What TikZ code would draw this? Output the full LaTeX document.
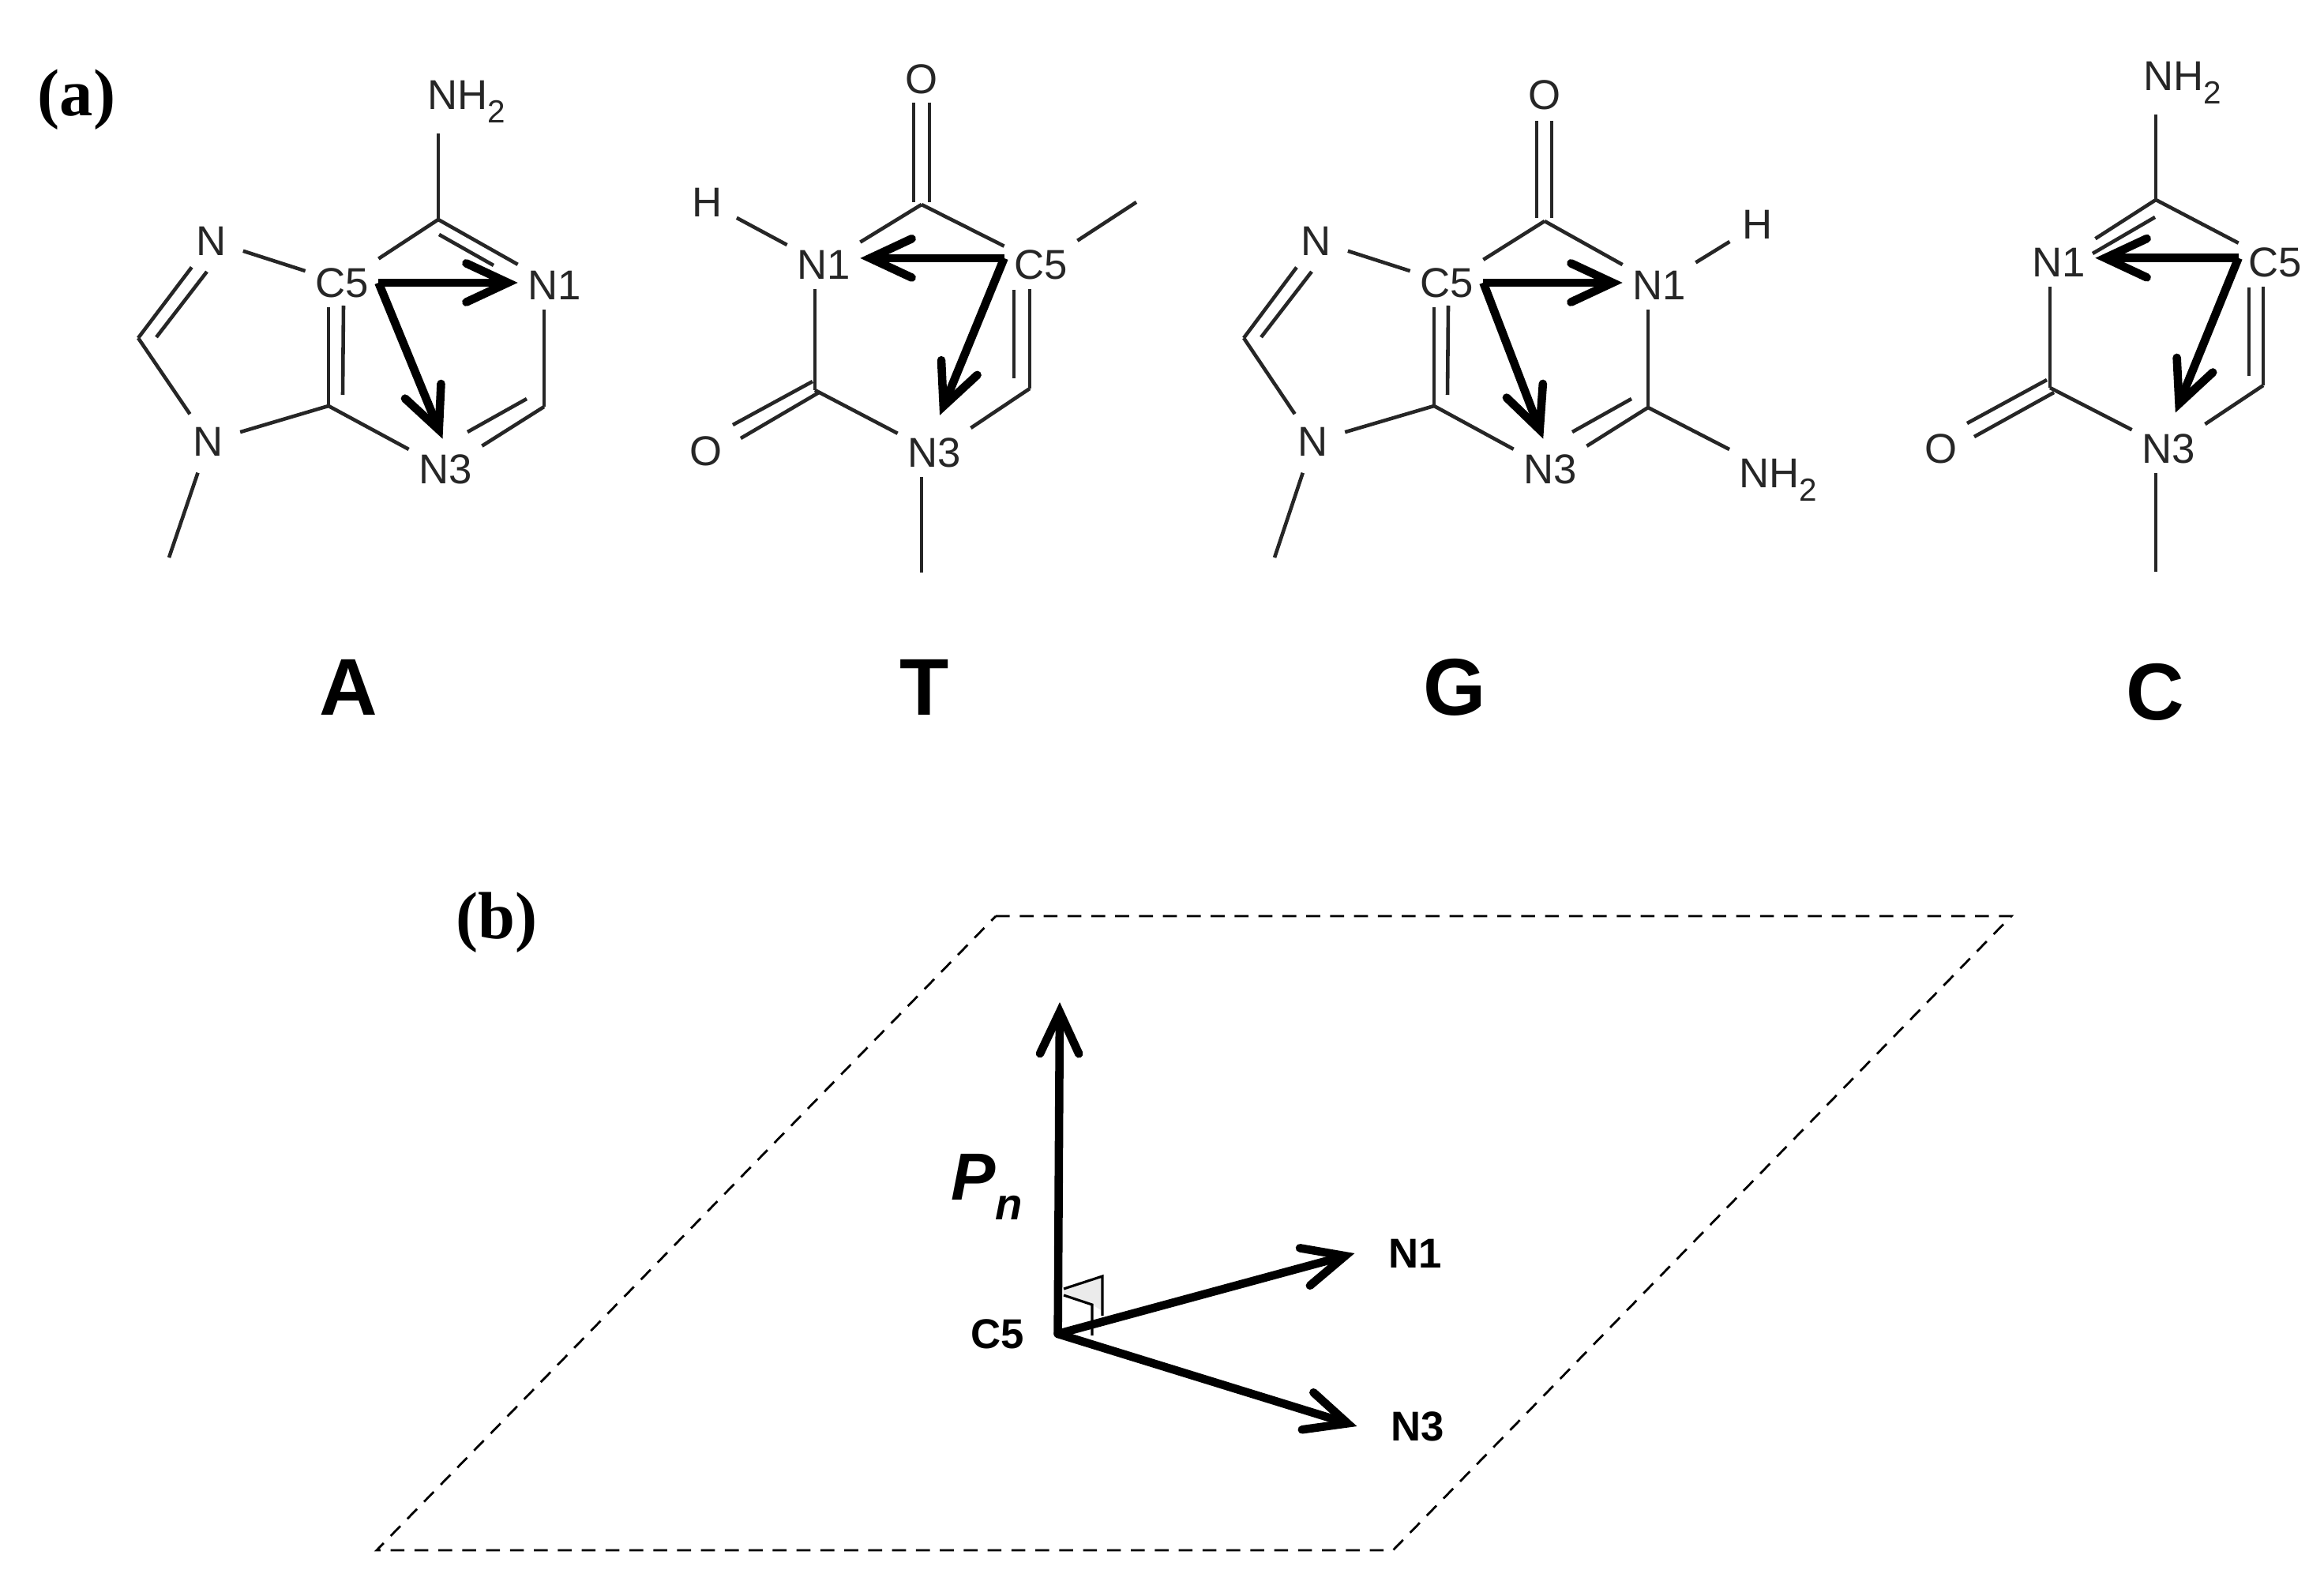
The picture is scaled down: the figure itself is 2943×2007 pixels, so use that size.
\documentclass[tikz,border=0pt]{standalone}
\usepackage{fontspec}
\setmainfont{Liberation Sans}
\newfontfamily\panelfont{Liberation Serif}
\usetikzlibrary{arrows.meta}
\newcommand{\subtwo}{\raisebox{-0.32em}{\fontsize{11.5}{11.5}\selectfont 2}}
\begin{document}
\begin{tikzpicture}[x=0.01cm,y=-0.01cm,
	bond/.style={draw=black!85,line width=1.3pt},
	vec/.style={draw=black,line width=3pt,-{Straight Barb[length=15pt,width=14pt,line cap=round,line join=miter]}},
	atom/.style={text=black!85,font=\fontsize{15}{15}\selectfont,inner sep=3.4pt},
	atomo/.style={atom,circle,inner sep=3pt},
	basename/.style={font=\fontsize{29}{29}\selectfont\bfseries,inner sep=0pt},
	panel/.style={font=\panelfont\fontsize{24}{24}\selectfont\bfseries,inner sep=0pt},
	planelabel/.style={font=\fontsize{15}{15}\selectfont\bfseries,inner xsep=12pt,inner ysep=0pt},
	plane/.style={draw=black,line width=0.8pt,dash pattern=on 5pt off 3.6pt},
	rightang/.style={draw=black,line width=0.9pt}]
	\useasboundingbox (0,0) rectangle (2943,2007);
	\node [panel] (pa) at (97,126) {(a)};
	\node [panel] (pb) at (629,1168) {(b)};
	\node [basename] (nameA) at (441,870) {A};
	\node [basename] (nameT) at (1171,870) {T};
	\node [basename] (nameG) at (1842,870) {G};
	\node [basename] (nameC) at (2729,876) {C};
	\node [atom,anchor=base] (aNH) at (591,139) {NH\subtwo};
	\node [atom] (aC5) at (433,358) {C5};
	\node [atom] (aN1) at (702,361) {N1};
	\node [atom] (aN3) at (564,594) {N3};
	\node [atomo] (aN7) at (268,305) {N};
	\node [atomo] (aN9) at (264,559) {N};
	\coordinate (aC6) at (555,278);
	\coordinate (aC2) at (689,515);
	\coordinate (aC4) at (416,514);
	\coordinate (aC8) at (175,428);
	\coordinate (aMe) at (214,706);
	\coordinate (aC6i) at (556,297);
	\coordinate (aN1i) at (625,336);
	\coordinate (aC2i) at (667,505);
	\coordinate (aN3i) at (592,547);
	\coordinate (aC5i) at (435,387);
	\coordinate (aC4i) at (434,500);
	\coordinate (aN7i) at (262,344);
	\coordinate (aC8i) at (198,427);
	\draw [bond] (aC6) -- (aC6 |- aNH.south);
	\draw [bond] (aC6) -- (aC5);
	\draw [bond] (aC6) -- (aN1);
	\draw [bond] (aC6i) -- (aN1i);
	\draw [bond] (aC2) -- (aN1.south -| aC2);
	\draw [bond] (aC2) -- (aN3);
	\draw [bond] (aC2i) -- (aN3i);
	\draw [bond] (aC4) -- (aN3);
	\draw [bond] (aC4) -- (aC4 |- aC5.south);
	\draw [bond] (aC5i) -- (aC4i);
	\draw [bond] (aN7) -- (aC5);
	\draw [bond] (aN7) -- (aC8);
	\draw [bond] (aN7i) -- (aC8i);
	\draw [bond] (aC8) -- (aN9);
	\draw [bond] (aN9) -- (aC4);
	\draw [bond] (aN9) -- (aMe);
	\draw [vec] (aC5.east) -- (aN1.west |- aC5.east);
	\draw [vec] (aC5.east) -- ([yshift=2pt,xshift=-1pt]aN3.north);
	\node [atomo] (tO) at (1167,100) {O};
	\node [atomo] (tH) at (896,256) {H};
	\node [atom] (tN1) at (1043,335) {N1};
	\node [atom] (tC5) at (1318,335) {C5};
	\node [atomo] (tOb) at (894,571) {O};
	\node [atom] (tN3) at (1183,573) {N3};
	\coordinate (tC4) at (1167,259);
	\coordinate (tC2) at (1032,494);
	\coordinate (tC6) at (1304,492);
	\coordinate (tMe) at (1439,256);
	\coordinate (tMeb) at (1167,725);
	\coordinate (tOa) at (1157,130);
	\coordinate (tOc) at (1157,256);
	\coordinate (tOd) at (1177,130);
	\coordinate (tOe) at (1177,256);
	\coordinate (tC2a) at (1029,483);
	\coordinate (tObb) at (928,538);
	\coordinate (tC2b) at (1037,497);
	\coordinate (tObc) at (938,555);
	\coordinate (tC5i) at (1284,367);
	\coordinate (tC6i) at (1284,479);
	\draw [bond] (tOa) -- (tOc);
	\draw [bond] (tOd) -- (tOe);
	\draw [bond] (tC4) -- (tN1);
	\draw [bond] (tC4) -- (tC5);
	\draw [bond] (tH) -- (tN1);
	\draw [bond] (tC5) -- (tMe);
	\draw [bond] (tC2) -- (tC2 |- tN1.south);
	\draw [bond] (tC2a) -- (tObb);
	\draw [bond] (tC2b) -- (tObc);
	\draw [bond] (tC2) -- (tN3);
	\draw [bond] (tN3.south -| tMeb) -- (tMeb);
	\draw [bond] (tN3) -- (tC6);
	\draw [bond] (tC6) -- (tC6 |- tC5.south);
	\draw [bond] (tC5i) -- (tC6i);
	\draw [vec] ([yshift=2.3pt]tC5.west) -- ([yshift=2.3pt]tN1.east);
	\draw [vec] ([yshift=2.3pt]tC5.west) -- ([yshift=4.5pt,xshift=2pt]tN3.north);
	\node [atomo] (gO) at (1956,120) {O};
	\node [atom] (gC5) at (1832,358) {C5};
	\node [atom] (gN1) at (2101,361) {N1};
	\node [atomo] (gH) at (2226,284) {H};
	\node [atom] (gN3) at (1963,594) {N3};
	\node [atom,anchor=base] (gNH) at (2252,618) {NH\subtwo};
	\node [atomo] (gN7) at (1667,305) {N};
	\node [atomo] (gN9) at (1663,559) {N};
	\coordinate (gC6) at (1956,280);
	\coordinate (gC2) at (2087,516);
	\coordinate (gC4) at (1816,514);
	\coordinate (gC8) at (1575,428);
	\coordinate (gMe) at (1614,706);
	\coordinate (gOa) at (1946,153);
	\coordinate (gOb) at (1946,276);
	\coordinate (gOc) at (1965,153);
	\coordinate (gOd) at (1965,276);
	\coordinate (gC2i) at (2066,505);
	\coordinate (gN3i) at (1991,547);
	\coordinate (gC5i) at (1834,387);
	\coordinate (gC4i) at (1833,500);
	\coordinate (gN7i) at (1661,344);
	\coordinate (gC8i) at (1597,427);
	\draw [bond] (gOa) -- (gOb);
	\draw [bond] (gOc) -- (gOd);
	\draw [bond] (gC6) -- (gC5);
	\draw [bond] (gC6) -- (gN1);
	\draw [bond] (gN1) -- (gH);
	\draw [bond] (gC2) -- (gC2 |- gN1.south);
	\draw [bond] (gC2) -- (gN3);
	\draw [bond] (gC2i) -- (gN3i);
	\draw [bond] (gC2) -- (gNH.north west);
	\draw [bond] (gC4) -- (gN3);
	\draw [bond] (gC4) -- (gC4 |- gC5.south);
	\draw [bond] (gC5i) -- (gC4i);
	\draw [bond] (gN7) -- (gC5);
	\draw [bond] (gN7) -- (gC8);
	\draw [bond] (gN7i) -- (gC8i);
	\draw [bond] (gC8) -- (gN9);
	\draw [bond] (gN9) -- (gC4);
	\draw [bond] (gN9) -- (gMe);
	\draw [vec] (gC5.east) -- (gN1.west |- gC5.east);
	\draw [vec] (gC5.east) -- ([yshift=2pt,xshift=-2.5pt]gN3.north);
	\node [atom,anchor=base] (cNH) at (2764,115) {NH\subtwo};
	\node [atom] (cN1) at (2607,332) {N1};
	\node [atom] (cC5) at (2881,332) {C5};
	\node [atomo] (cO) at (2458,568) {O};
	\node [atom] (cN3) at (2746,568) {N3};
	\coordinate (cC4) at (2730,253);
	\coordinate (cC2) at (2596,491);
	\coordinate (cC6) at (2866,488);
	\coordinate (cMe) at (2730,724);
	\coordinate (cC4i) at (2729,275);
	\coordinate (cN1i) at (2650,321);
	\coordinate (cC2a) at (2592,481);
	\coordinate (cOa) at (2491,536);
	\coordinate (cC2b) at (2601,497);
	\coordinate (cOb) at (2500,553);
	\coordinate (cC5i) at (2848,364);
	\coordinate (cC6i) at (2848,476);
	\draw [bond] (cC4) -- (cC4 |- cNH.south);
	\draw [bond] (cC4) -- (cC5);
	\draw [bond] (cC4) -- (cN1);
	\draw [bond] (cC4i) -- (cN1i);
	\draw [bond] (cC2) -- (cC2 |- cN1.south);
	\draw [bond] (cC2a) -- (cOa);
	\draw [bond] (cC2b) -- (cOb);
	\draw [bond] (cC2) -- (cN3);
	\draw [bond] (cN3.south -| cMe) -- (cMe);
	\draw [bond] (cN3) -- (cC6);
	\draw [bond] (cC6) -- (cC6 |- cC5.south);
	\draw [bond] (cC5i) -- (cC6i);
	\draw [vec] ([yshift=1.5pt]cC5.west) -- ([yshift=1.5pt]cN1.east);
	\draw [vec] ([yshift=1.5pt]cC5.west) -- ([yshift=4pt,xshift=2.5pt]cN3.north);
	\draw [plane] (1261,1160) -- (2547,1160) -- (1764,1963) -- (477,1963) -- cycle;
	\fill [black!8] (1347,1632) -- (1396,1616) -- (1396,1660) -- (1383,1652) -- (1347,1640) -- cycle;
	\draw [rightang] (1347,1632) -- (1396,1616) -- (1396,1666);
	\draw [rightang] (1347,1640) -- (1383,1652) -- (1383,1691);
	\node [planelabel] (bC5) at (1263,1689) {C5};
	\node [planelabel] (bN1) at (1792,1587) {N1};
	\node [planelabel] (bN3) at (1795,1806) {N3};
	\node [inner sep=0pt,font=\fontsize{24}{24}\selectfont\bfseries\itshape] (bPn) at (1250,1503) {P\raisebox{-0.3em}{\fontsize{16}{16}\selectfont n}};
	\coordinate (bTop) at (1342,1269);
	\draw [vec,line cap=round] (bC5.east) -- (bTop);
	\draw [vec,line cap=round] (bC5.east) -- (bN1.west);
	\draw [vec,line cap=round] (bC5.east) -- (bN3.west);
\end{tikzpicture}
\end{document}
